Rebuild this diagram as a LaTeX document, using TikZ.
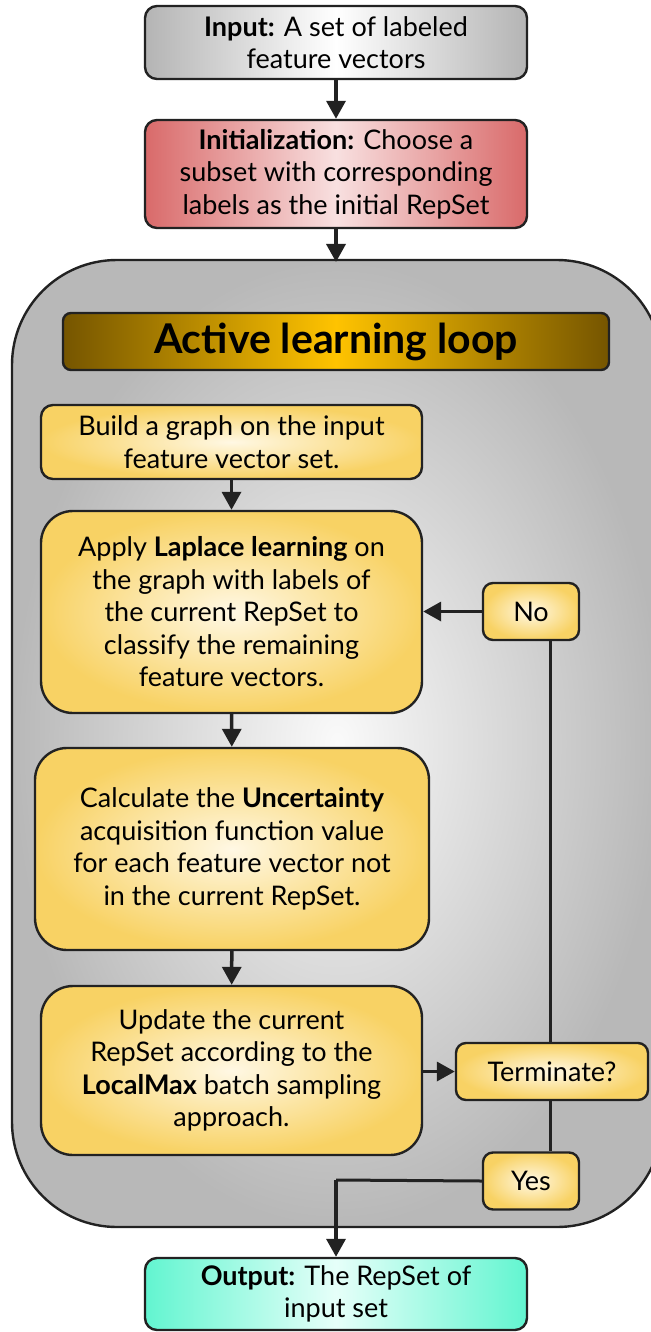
\documentclass[tikz,border=0pt]{standalone}
\usepackage{fontspec}
\setmainfont{Lato}
\usetikzlibrary{arrows.meta,calc}

\definecolor{edgedark}{HTML}{222222}
\definecolor{graybox}{HTML}{B4B4B4}
\definecolor{redbox}{HTML}{D96A6A}
\definecolor{redlight}{HTML}{F8E0E0}
\definecolor{tealbox}{HTML}{62F5D0}
\definecolor{teallight}{HTML}{E6FFF9}
\definecolor{goldedge}{HTML}{755500}
\definecolor{goldmid}{HTML}{FFC300}
\definecolor{yelbox}{HTML}{F8D264}
\definecolor{yellight}{HTML}{FFF8E4}
\definecolor{loopout}{HTML}{B8B8B8}
\definecolor{loopin}{HTML}{FAFAFA}

\tikzset{
  boxbase/.style={draw=edgedark, line width=2.4pt, align=center, inner sep=0pt,
    font=\fontsize{27}{32.5}\selectfont},
  flowbox/.style={boxbase, rounded corners=12pt},
  yelbox/.style={boxbase, inner color=yellight, outer color=yelbox},
  smallbox/.style={yelbox, rounded corners=10pt, minimum width=96pt, minimum height=57pt},
  conn/.style={line width=3pt, draw=edgedark},
  arr/.style={line width=3.5pt, draw=edgedark, -{Triangle[length=18pt,width=19pt]}},
}

\begin{document}
\begin{tikzpicture}[x=1pt,y=-1pt]
\useasboundingbox (0,0) rectangle (650,1332);

% outer loop container
\path[draw=edgedark, line width=2.4pt, rounded corners=105pt,
      inner color=loopin, outer color=loopout]
  (12,260) rectangle (662,1227);

% top and bottom blocks
\node[flowbox, left color=graybox, right color=graybox, middle color=white,
      minimum width=382pt, minimum height=73pt] (inp) at (336,42.5)
  {\textbf{Input:} A set of labeled\\feature vectors};
\node[flowbox, left color=redbox, right color=redbox, middle color=redlight,
      minimum width=382pt, minimum height=108pt] (init) at (336,174)
  {\textbf{Initialization:} Choose a\\subset with corresponding\\labels as the initial RepSet};
\node[flowbox, left color=tealbox, right color=tealbox, middle color=teallight,
      minimum width=382pt, minimum height=72pt] (out) at (336,1294)
  {\textbf{Output:} The RepSet of\\input set};

% loop title
\node[boxbase, rounded corners=8pt, left color=goldedge, right color=goldedge,
      middle color=goldmid, minimum width=546pt, minimum height=57pt,
      font=\fontsize{41}{46}\selectfont\bfseries] (title) at (336,341.5)
  {Active learning loop};

% loop steps
\node[yelbox, rounded corners=12pt, minimum width=381pt, minimum height=74pt]
  (b1) at (231.5,442) {Build a graph on the input\\feature vector set.};
\node[yelbox, rounded corners=32pt, minimum width=381pt, minimum height=202pt]
  (b2) at (231.5,612) {Apply \textbf{Laplace learning} on\\the graph with labels of\\the current RepSet to\\classify the remaining\\feature vectors.};
\node[yelbox, rounded corners=32pt, minimum width=394pt, minimum height=202pt]
  (b3) at (232,849) {Calculate the \textbf{Uncertainty}\\acquisition function value\\for each feature vector not\\in the current RepSet.};
\node[yelbox, rounded corners=32pt, minimum width=381pt, minimum height=169pt]
  (b4) at (231.5,1070.5) {Update the current\\RepSet according to the\\\textbf{LocalMax} batch sampling\\approach.};

% decision boxes
\node[yelbox, rounded corners=10pt, minimum width=192pt, minimum height=57pt]
  (term) at (552,1071.5) {Terminate?};
\node[smallbox] (no) at (531,611.5) {No};
\node[smallbox] (yes) at (531,1181) {Yes};
\coordinate (turn) at (336,1180);

% connectors
\draw[arr] (inp) -- (init);
\draw[arr] (init.south) -- (init.south |- 0,262);
\draw[arr] (b1) -- (b2);
\draw[arr] (b2) -- (b3);
\draw[arr] (b3) -- (b4);
\draw[arr] (b4.east |- term.west) -- (term.west);
\draw[conn] (term.north -| 550,0) -- (no.south -| 550,0);
\draw[arr] (no.west) -- (no.west -| b2.east);
\draw[conn] (term.south -| 550,0) -- (yes.north -| 550,0);
\draw[conn] (yes.west) -- (turn);
\draw[arr] (turn) -- (out.north);
\end{tikzpicture}
\end{document}
